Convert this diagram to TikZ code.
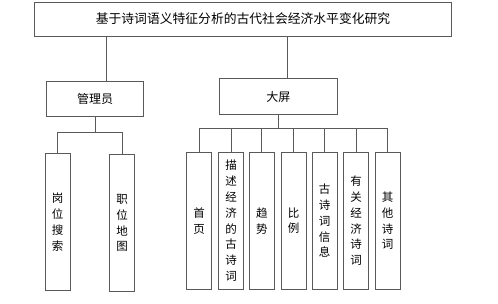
\documentclass[tikz,border=0pt]{standalone}
\usepackage{fontspec}
\newfontfamily\cjk{Noto Sans CJK SC}
\begin{document}
\begin{tikzpicture}[x=1pt,y=-1pt,
  every node/.style={font=\cjk},
  box/.style={draw=black!65,line width=0.8pt,inner sep=0pt,fill=white},
  vbox/.style={box,minimum width=25pt,minimum height=137pt,align=center,
    font=\cjk\fontsize{11.5}{15.9}\selectfont},
  conn/.style={draw=black!65,line width=0.8pt}]
\useasboundingbox (0,0) rectangle (498,303);
\node[box,minimum width=417pt,minimum height=34pt,font=\cjk\fontsize{12.8}{14}\selectfont] (top) at (243,19) {基于诗词语义特征分析的古代社会经济水平变化研究};
\node[box,minimum width=97pt,minimum height=35pt,font=\cjk\fontsize{12}{14}\selectfont] (adm) at (95,98.7) {管理员};
\node[box,minimum width=118pt,minimum height=35.5pt,font=\cjk\fontsize{12}{14}\selectfont] (scr) at (278.3,96.5) {大屏};
\node[vbox] (a1) at (57.7,222) {岗\\位\\搜\\索};
\node[vbox] (a2) at (122,223) {职\\位\\地\\图};
\node[vbox] (b1) at (199.2,220.7) {首\\页};
\node[vbox] (b2) at (231,220.7) {描\\述\\经\\济\\的\\古\\诗\\词};
\node[vbox] (b3) at (261.8,220.7) {趋\\势};
\node[vbox] (b4) at (293.7,220.7) {比\\例};
\node[vbox] (b5) at (324.7,220.7) {古\\诗\\词\\信\\息};
\node[vbox] (b6) at (356.2,220.7) {有\\关\\经\\济\\诗\\词};
\node[vbox] (b7) at (387.7,220.7) {其\\他\\诗\\词};
\coordinate (ja) at (106.7,0);
\coordinate (jb) at (287.7,0);
\coordinate (busa) at (0,132.7);
\coordinate (busb) at (0,128);
\draw[conn] (top.south -| ja) -- (adm.north -| ja);
\draw[conn] (top.south -| jb) -- (scr.north -| jb);
\draw[conn] (adm.south) -- (adm.south |- busa);
\draw[conn] (a1.north) -- (a1.north |- busa) -- (a2.north |- busa) -- (a2.north);
\draw[conn] (scr.south) -- (scr.south |- busb);
\draw[conn] (b1.north |- busb) -- (b7.north |- busb);
\foreach \b in {b1,b2,b3,b4,b5,b6,b7}{
  \draw[conn] (\b.north) -- (\b.north |- busb);
}
\end{tikzpicture}
\end{document}
